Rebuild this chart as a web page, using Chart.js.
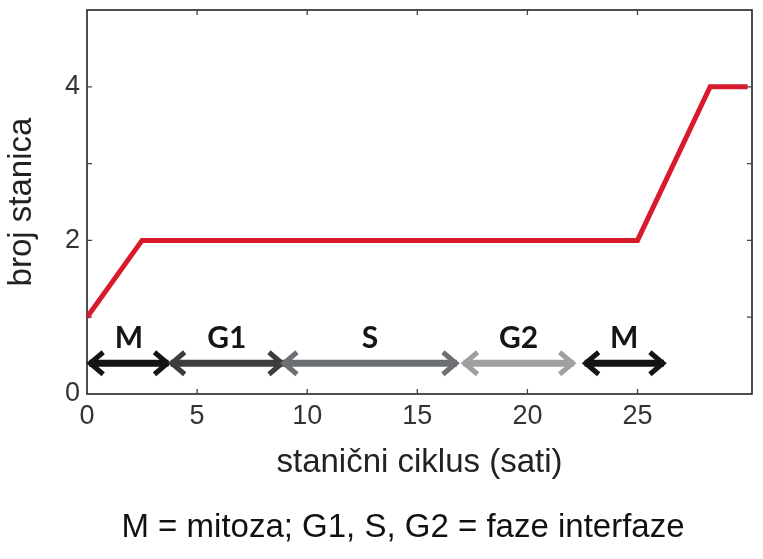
<!DOCTYPE html>
<html>
<head>
<meta charset="utf-8">
<script src="https://cdn.jsdelivr.net/npm/chart.js@4/dist/chart.umd.min.js"></script>
<style>
html,body{margin:0;padding:0;background:#fff;}
#wrap{width:763px;height:559px;position:relative;}
</style>
</head>
<body>
<div id="wrap"><canvas id="c"></canvas></div>
<script>
// ---- data ----
const timeHours = [0, 2.5, 25, 28.3, 30];
const cellCount = [1, 2, 2, 4, 4];
const phaseLabels = ['M', 'G1', 'S', 'G2', 'M'];
const phaseStart = [0.1, 3.8, 8.9, 17.1, 22.6];
const phaseEnd = [3.7, 8.9, 16.8, 22.1, 26.2];
const xTickValues = [0, 5, 10, 15, 20, 25];
const yTickLabels = [0, 2, 4];
const xTitle = 'stanični ciklus (sati)';
const yTitle = 'broj stanica';
const footnote = 'M = mitoza; G1, S, G2 = faze interfaze';

// ---- styles ----
const phaseColors = ['#141414', '#3d3d3d', '#6c6f74', '#a0a0a0', '#141414'];
const arrowLevel = 0.4;
const labelLevel = 0.72;

const datasets = [{
  label: 'broj stanica',
  data: timeHours.map((t, i) => ({x: t, y: cellCount[i]})),
  borderColor: '#d81b2c',
  borderWidth: 5,
  pointRadius: 0,
  tension: 0,
  borderJoinStyle: 'miter'
}];
phaseLabels.forEach((lab, i) => {
  datasets.push({
    label: lab,
    data: [{x: phaseStart[i], y: arrowLevel}, {x: phaseEnd[i], y: arrowLevel}],
    borderColor: phaseColors[i],
    borderWidth: 7,
    pointRadius: 0,
    phaseIndex: i
  });
});

const decorPlugin = {
  id: 'decor',
  beforeDatasetsDraw(chart) {
    const {ctx, chartArea: a, scales: {x, y}} = chart;
    ctx.save();
    ctx.strokeStyle = '#222';
    ctx.lineWidth = 1.6;
    ctx.strokeRect(a.left, a.top, a.right - a.left, a.bottom - a.top);
    ctx.lineWidth = 1.3;
    ctx.strokeStyle = '#444';
    const tl = 5;
    xTickValues.forEach(v => {
      if (v === 0) return;
      const px = x.getPixelForValue(v);
      ctx.beginPath();
      ctx.moveTo(px, a.bottom); ctx.lineTo(px, a.bottom - tl);
      ctx.moveTo(px, a.top); ctx.lineTo(px, a.top + tl);
      ctx.stroke();
    });
    [1, 2, 3, 4].forEach(v => {
      const py = y.getPixelForValue(v);
      ctx.beginPath();
      ctx.moveTo(a.left, py); ctx.lineTo(a.left + tl, py);
      ctx.moveTo(a.right, py); ctx.lineTo(a.right - tl, py);
      ctx.stroke();
    });
    ctx.restore();
  },
  afterDatasetsDraw(chart) {
    const {ctx, scales: {x, y}} = chart;
    ctx.save();
    chart.data.datasets.forEach((ds, di) => {
      if (ds.phaseIndex === undefined) return;
      const meta = chart.getDatasetMeta(di);
      const p0 = meta.data[0], p1 = meta.data[1];
      const hl = 14, hh = 11;
      ctx.strokeStyle = ds.borderColor;
      ctx.lineWidth = 5;
      ctx.lineCap = 'butt';
      ctx.lineJoin = 'miter';
      ctx.beginPath();
      ctx.moveTo(p0.x + hl, p0.y - hh); ctx.lineTo(p0.x + 1, p0.y); ctx.lineTo(p0.x + hl, p0.y + hh);
      ctx.stroke();
      ctx.beginPath();
      ctx.moveTo(p1.x - hl, p1.y - hh); ctx.lineTo(p1.x - 1, p1.y); ctx.lineTo(p1.x - hl, p1.y + hh);
      ctx.stroke();
      const i = ds.phaseIndex;
      ctx.fillStyle = '#151515';
      ctx.font = 'bold 30px Lato, "DejaVu Sans", sans-serif';
      ctx.textAlign = 'center';
      ctx.textBaseline = 'middle';
      ctx.fillText(phaseLabels[i], x.getPixelForValue((phaseStart[i] + phaseEnd[i]) / 2), y.getPixelForValue(labelLevel));
    });
    ctx.restore();
  },
  afterDraw(chart) {
    const {ctx, height} = chart;
    ctx.save();
    ctx.fillStyle = '#111';
    ctx.font = '33px "Liberation Sans", Arial, sans-serif';
    ctx.textAlign = 'center';
    ctx.textBaseline = 'middle';
    ctx.fillText(footnote, 403, height - 31);
    ctx.restore();
  }
};

new Chart(document.getElementById('c'), {
  type: 'line',
  data: {datasets},
  options: {
    responsive: true,
    maintainAspectRatio: false,
    animation: false,
    layout: {padding: {left: 0, right: 11, top: 10, bottom: 50.4}},
    plugins: {
      legend: {display: false},
      tooltip: {enabled: false},
      title: {display: false}
    },
    scales: {
      x: {
        type: 'linear',
        min: 0,
        max: 30.2,
        grid: {display: false, drawTicks: false},
        border: {display: false},
        afterBuildTicks: s => { s.ticks = xTickValues.map(v => ({value: v})); },
        afterFit: s => { s.height = 114.6; s.paddingLeft = 0; s.paddingRight = 0; },
        ticks: {
          padding: 6,
          color: '#333',
          font: {family: '"Liberation Sans", Arial, sans-serif', size: 27},
          callback: v => String(v),
          maxRotation: 0,
          autoSkip: false
        },
        title: {
          display: true,
          text: xTitle,
          color: '#222',
          font: {family: '"Liberation Sans", Arial, sans-serif', size: 33},
          padding: {top: 0, bottom: 26}
        }
      },
      y: {
        type: 'linear',
        min: 0,
        max: 5,
        grid: {display: false, drawTicks: false},
        border: {display: false},
        afterBuildTicks: s => { s.ticks = yTickLabels.map(v => ({value: v})); },
        afterFit: s => { s.width = 87; s.paddingTop = 0; s.paddingBottom = 0; },
        ticks: {
          padding: 7,
          color: '#333',
          font: {family: '"Liberation Sans", Arial, sans-serif', size: 27},
          callback: v => String(v)
        },
        title: {
          display: true,
          text: yTitle,
          color: '#222',
          font: {family: '"Liberation Sans", Arial, sans-serif', size: 33},
          padding: {top: 2, bottom: 0}
        }
      }
    }
  },
  plugins: [decorPlugin]
});
</script>
</body>
</html>
